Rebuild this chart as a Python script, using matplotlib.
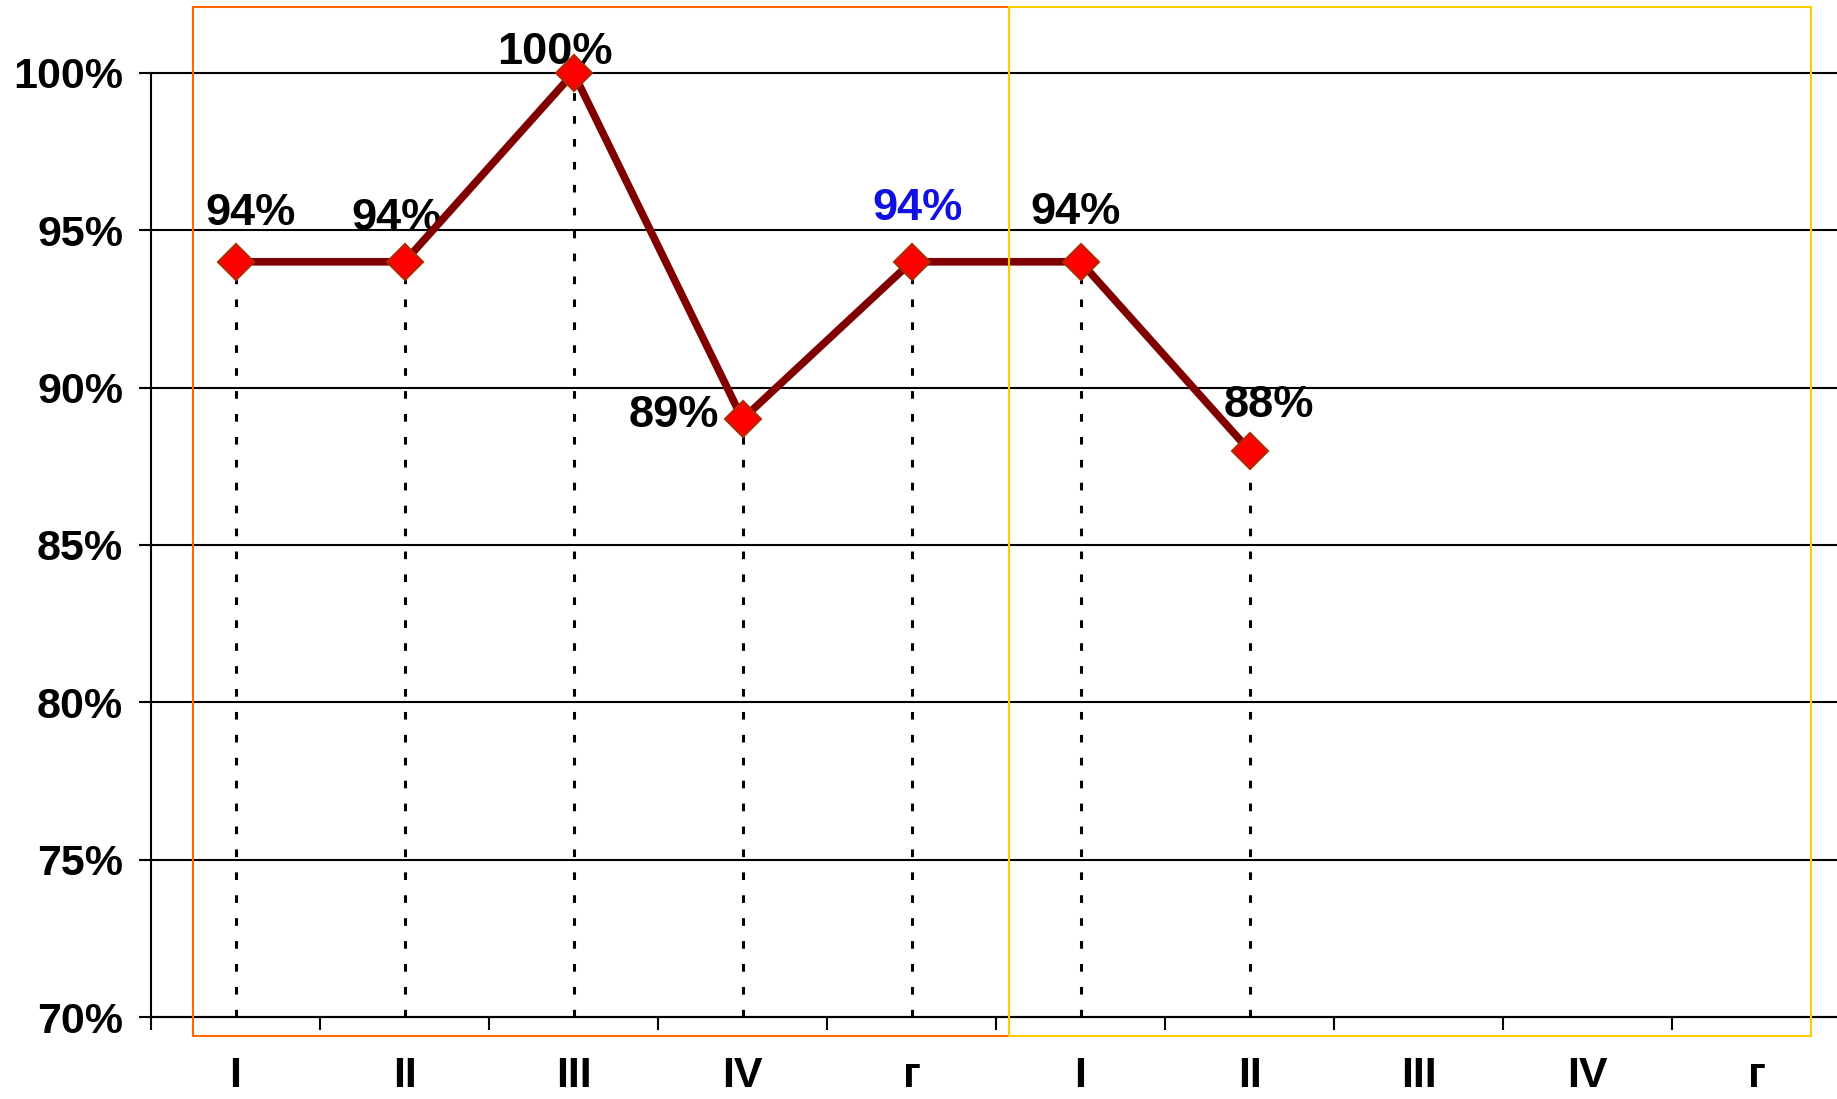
import matplotlib.pyplot as plt
from matplotlib.patches import Rectangle
import numpy as np

plt.rcParams['font.family'] = ['Liberation Sans', 'DejaVu Sans']
plt.rcParams['font.weight'] = 'bold'

# Data
quarters = ['I', 'II', 'III', 'IV', 'г', 'I', 'II', 'III', 'IV', 'г']
values = [94, 94, 100, 89, 94, 94, 88]
y_ticks = [70, 75, 80, 85, 90, 95, 100]

# label placement (pixels relative to the point) and colours
label_offsets = [(15, 48), (-8, 43), (-19, 20), (-69, 4), (6, 53), (-5, 49), (19, 45)]
label_colors = ['black', 'black', 'black', 'black', '#1010e0', 'black', 'black']

fig = plt.figure(figsize=(18.37, 10.99), dpi=100)
fig.patch.set_facecolor('white')
ax = fig.add_axes([0.0822, 0.0746, 0.920, 0.859])

x = np.arange(len(values))

# dotted drop lines
ax.vlines(x, y_ticks[0], values, colors='black', linewidth=2.2,
          linestyles=(0, (2.5, 5)), zorder=2)

# value labels (behind the line)
for xi, v, (dx, dy), c in zip(x, values, label_offsets, label_colors):
    ax.annotate(f'{v}%', (xi, v), xytext=(dx, dy), textcoords='offset pixels',
                ha='center', va='center', fontsize=32.5, fontweight='bold',
                color=c, zorder=3, annotation_clip=False)

ax.plot(x, values, color='#800000', linewidth=5.5, marker='D', markersize=18.5,
        markerfacecolor='#ff0000', markeredgecolor='#b02a00', markeredgewidth=1.5,
        clip_on=False, zorder=5)

ax.set_xlim(-0.5, len(quarters) - 0.5)
ax.set_ylim(y_ticks[0], y_ticks[-1])

ax.set_yticks(y_ticks)
ax.set_yticklabels([f'{t}%' for t in y_ticks])
ax.set_xticks(np.arange(len(quarters)))
ax.set_xticklabels(quarters)
ax.set_xticks(np.arange(len(quarters) + 1) - 0.5, minor=True)

ax.tick_params(axis='y', length=9, width=1.5, pad=11, labelsize=31)
ax.tick_params(axis='x', which='major', length=0, pad=28, labelsize=31)
ax.tick_params(axis='x', which='minor', length=9, width=1.5)

ax.yaxis.grid(True, color='black', linewidth=1.5)
for gl in ax.get_ygridlines():
    gl.set_clip_on(False)
ax.set_axisbelow(True)

for s in ['top', 'right']:
    ax.spines[s].set_visible(False)
for s in ['left', 'bottom']:
    ax.spines[s].set_linewidth(1.5)
    ax.spines[s].set_color('black')

# year frames
fig.add_artist(Rectangle((0.1051, 0.0573), 0.5493 - 0.1051, 0.9936 - 0.0573,
                         transform=fig.transFigure, fill=False,
                         edgecolor='#ff6600', linewidth=1.5, zorder=10))
fig.add_artist(Rectangle((0.5493, 0.0573), 0.9858 - 0.5493, 0.9936 - 0.0573,
                         transform=fig.transFigure, fill=False,
                         edgecolor='#ffcc00', linewidth=1.5, zorder=10))

fig.savefig('out.png', dpi=100)
